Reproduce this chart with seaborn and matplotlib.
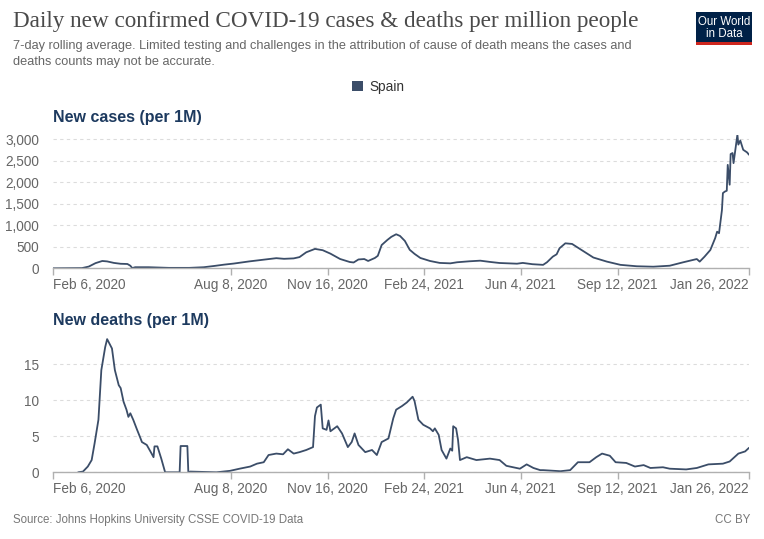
import matplotlib.pyplot as plt
import matplotlib.ticker as mticker
from matplotlib.patches import Patch, Rectangle
import pandas as pd
import seaborn as sns

# --- data (7-day rolling avg, Spain) ---
cases_dates = [
    "2020-02-06", "2020-03-07", "2020-03-14", "2020-03-21", "2020-03-28", "2020-04-02",
    "2020-04-09", "2020-04-16", "2020-04-23", "2020-04-26", "2020-04-28", "2020-05-01",
    "2020-05-15", "2020-06-05", "2020-06-26", "2020-07-11", "2020-07-22", "2020-08-01",
    "2020-08-11", "2020-08-27", "2020-09-09", "2020-09-24", "2020-10-02", "2020-10-12",
    "2020-10-18", "2020-10-25", "2020-11-03", "2020-11-11", "2020-11-19", "2020-11-29",
    "2020-12-09", "2020-12-13", "2020-12-18", "2020-12-24", "2020-12-28", "2021-01-04",
    "2021-01-07", "2021-01-11", "2021-01-17", "2021-01-21", "2021-01-26", "2021-01-30",
    "2021-02-04", "2021-02-09", "2021-02-14", "2021-02-20", "2021-03-02", "2021-03-12",
    "2021-03-23", "2021-03-30", "2021-04-12", "2021-04-23", "2021-05-03", "2021-05-13",
    "2021-05-31", "2021-06-06", "2021-06-16", "2021-06-27", "2021-07-01", "2021-07-07",
    "2021-07-11", "2021-07-14", "2021-07-20", "2021-07-27", "2021-08-04", "2021-08-18",
    "2021-09-01", "2021-09-15", "2021-10-02", "2021-10-19", "2021-11-05", "2021-11-19",
    "2021-12-03", "2021-12-06", "2021-12-11", "2021-12-17", "2021-12-22", "2021-12-24",
    "2021-12-26", "2021-12-29", "2021-12-30", "2022-01-01", "2022-01-03", "2022-01-04",
    "2022-01-06", "2022-01-07", "2022-01-09", "2022-01-10", "2022-01-14", "2022-01-15",
    "2022-01-17", "2022-01-20", "2022-01-24", "2022-01-26",
]
cases_values = [
    0, 5, 40, 120, 170, 160,
    125, 105, 100, 60, 5, 25,
    25, 10, 10, 25, 55, 85,
    110, 160, 195, 235, 220, 230,
    260, 372, 450, 420, 340, 216,
    146, 135, 205, 215, 170, 240,
    290, 540, 660, 730, 790, 750,
    635, 430, 335, 240, 170, 125,
    115, 140, 163, 177, 148, 123,
    107, 125, 95, 80, 140, 270,
    325, 465, 580, 565, 450, 250,
    155, 80, 47, 37, 60, 140,
    215, 155, 270, 425, 700, 850,
    815, 1350, 1745, 1780, 1800, 2400,
    1940, 2650, 2675, 2440, 3100, 2870,
    2965, 2750, 2690, 2635,
]

deaths_dates = [
    "2020-03-03", "2020-03-08", "2020-03-13", "2020-03-17", "2020-03-20", "2020-03-24",
    "2020-03-27", "2020-03-31", "2020-04-02", "2020-04-07", "2020-04-10", "2020-04-14",
    "2020-04-16", "2020-04-19", "2020-04-22", "2020-04-24", "2020-04-26", "2020-04-29",
    "2020-05-03", "2020-05-06", "2020-05-08", "2020-05-13", "2020-05-18", "2020-05-20",
    "2020-05-21", "2020-05-24", "2020-05-28", "2020-06-01", "2020-06-16", "2020-06-17",
    "2020-06-24", "2020-06-25", "2020-06-27", "2020-07-24", "2020-08-07", "2020-08-17",
    "2020-08-28", "2020-09-04", "2020-09-11", "2020-09-16", "2020-09-24", "2020-10-01",
    "2020-10-06", "2020-10-12", "2020-10-18", "2020-10-25", "2020-11-01", "2020-11-03",
    "2020-11-05", "2020-11-09", "2020-11-11", "2020-11-15", "2020-11-17", "2020-11-19",
    "2020-11-26", "2020-12-01", "2020-12-07", "2020-12-11", "2020-12-14", "2020-12-18",
    "2020-12-25", "2021-01-01", "2021-01-06", "2021-01-11", "2021-01-18", "2021-01-23",
    "2021-01-26", "2021-02-01", "2021-02-06", "2021-02-12", "2021-02-14", "2021-02-18",
    "2021-02-23", "2021-03-02", "2021-03-05", "2021-03-07", "2021-03-11", "2021-03-14",
    "2021-03-19", "2021-03-23", "2021-03-25", "2021-03-26", "2021-03-29", "2021-03-31",
    "2021-04-02", "2021-04-09", "2021-04-19", "2021-05-03", "2021-05-13", "2021-05-20",
    "2021-06-03", "2021-06-10", "2021-06-17", "2021-06-24", "2021-06-27", "2021-07-15",
    "2021-07-25", "2021-08-02", "2021-08-14", "2021-08-21", "2021-08-27", "2021-09-04",
    "2021-09-10", "2021-09-21", "2021-09-30", "2021-10-09", "2021-10-16", "2021-10-29",
    "2021-11-05", "2021-11-22", "2021-12-03", "2021-12-15", "2021-12-30", "2022-01-06",
    "2022-01-15", "2022-01-22", "2022-01-26",
]
deaths_values = [
    0, 0.1, 0.8, 1.7, 4.0, 7.3,
    14.2, 17.4, 18.5, 17.2, 14.2, 12.1,
    11.7, 9.8, 8.7, 7.7, 8.2, 7.3,
    5.9, 4.9, 4.2, 3.8, 2.6, 2.1,
    3.6, 3.6, 1.9, 0, 0, 3.65,
    3.65, 0, 0.1, 0, 0.2, 0.5,
    0.8, 1.2, 1.4, 2.4, 2.6, 2.5,
    3.2, 2.6, 2.8, 3.1, 3.5, 7.8,
    9.0, 9.4, 6.1, 5.9, 7.2, 5.7,
    6.4, 5.4, 3.5, 4.2, 5.4, 3.8,
    2.8, 3.1, 2.4, 4.2, 4.7, 7.5,
    8.7, 9.2, 9.7, 10.5, 9.9, 7.3,
    6.6, 6.1, 5.7, 6.1, 5.2, 3.1,
    1.9, 3.3, 3.0, 6.4, 6.1, 4.5,
    1.7, 2.1, 1.7, 1.9, 1.7, 0.9,
    0.5, 1.1, 0.6, 0.3, 0.3, 0.15,
    0.3, 1.4, 1.4, 2.1, 2.6, 2.3,
    1.4, 1.3, 0.8, 1.0, 0.6, 0.7,
    0.5, 0.4, 0.6, 1.1, 1.2, 1.5,
    2.6, 2.9, 3.4,
]

tick_dates = ["2020-02-06", "2020-08-08", "2020-11-16", "2021-02-24",
              "2021-06-04", "2021-09-12", "2022-01-26"]
tick_labels = ["Feb 6, 2020", "Aug 8, 2020", "Nov 16, 2020", "Feb 24, 2021",
               "Jun 4, 2021", "Sep 12, 2021", "Jan 26, 2022"]
country = "Spain"

LINE = "#3b4d68"
TXT = "#666666"
sns.set_theme(style="white")
plt.rcParams["font.family"] = ["Liberation Sans", "DejaVu Sans"]

cases = pd.DataFrame({"date": pd.to_datetime(cases_dates), "value": cases_values})
deaths = pd.DataFrame({"date": pd.to_datetime(deaths_dates), "value": deaths_values})

fig = plt.figure(figsize=(7.64, 5.39), dpi=100)
W, H = 764, 539


def box(x0, ytop, x1, ybot):
    return [x0 / W, 1 - ybot / H, (x1 - x0) / W, (ybot - ytop) / H]


ax1 = fig.add_axes(box(53, 134.7, 749, 268.3))
ax2 = fig.add_axes(box(53, 338.4, 749, 472.3))

panels = [(ax1, cases, 3100, [0, 500, 1000, 1500, 2000, 2500, 3000], "New cases (per 1M)"),
          (ax2, deaths, 18.6, [0, 5, 10, 15], "New deaths (per 1M)")]

for ax, df, ymax, yt, name in panels:
    sns.lineplot(data=df, x="date", y="value", ax=ax, color=LINE, linewidth=1.3)
    ax.set_xlim(pd.Timestamp("2020-02-06"), pd.Timestamp("2022-01-26"))
    ax.set_ylim(0, ymax)
    ax.set_yticks(yt)
    ax.yaxis.set_major_formatter(mticker.FuncFormatter(lambda v, p: f"{v:,.0f}"))
    ax.set_xticks(pd.to_datetime(tick_dates))
    ax.set_xticklabels(tick_labels)
    labs = ax.get_xticklabels()
    labs[0].set_ha("left")
    labs[-1].set_ha("right")
    ax.set_xlabel("")
    ax.set_ylabel("")
    for s in ["top", "right", "left"]:
        ax.spines[s].set_visible(False)
    ax.spines["bottom"].set_color("#b0b0b0")
    ax.spines["bottom"].set_linewidth(1.0)
    ax.tick_params(axis="x", bottom=True, length=5, width=1.0, color="#b0b0b0",
                   labelsize=9.8, labelcolor=TXT, pad=2)
    ax.tick_params(axis="y", left=False, labelsize=9.8, labelcolor=TXT, pad=4)
    ax.yaxis.grid(True, linestyle=(0, (3, 3)), color="#dcdcdc", linewidth=0.8)
    ax.xaxis.grid(False)
    ax.set_axisbelow(True)
    ax.patch.set_alpha(0)
    ax.text(0, 1.0, name, transform=ax.transAxes, fontsize=11.5, fontweight="bold",
            color="#1d3a5f", ha="left", va="bottom")

ax1.texts[0].set_position((0, 1 + 10 / 133.6))
ax2.texts[0].set_position((0, 1 + 10 / 133.9))

# header
fig.text(13 / W, 1 - 22 / H, "Daily new confirmed COVID-19 cases & deaths per million people",
         family=["Liberation Serif", "DejaVu Serif"], fontsize=16.7, color="#4a4a4a",
         ha="left", va="center")
fig.text(13 / W, 1 - 46 / H,
         "7-day rolling average. Limited testing and challenges in the attribution of cause of death means the cases and",
         fontsize=9.2, color=TXT, ha="left", va="center")
fig.text(13 / W, 1 - 62 / H, "deaths counts may not be accurate.",
         fontsize=9.2, color=TXT, ha="left", va="center")

# logo
fig.patches.append(Rectangle((696 / W, 1 - 45 / H), 56 / W, 33 / H, transform=fig.transFigure,
                             facecolor="#002147", edgecolor="none"))
fig.patches.append(Rectangle((696 / W, 1 - 45 / H), 56 / W, 3 / H, transform=fig.transFigure,
                             facecolor="#ce261e", edgecolor="none"))
fig.text(724 / W, 1 - 28 / H, "Our World\nin Data", fontsize=8.3, color="white",
         ha="center", va="center", linespacing=1.0)

# legend
fig.legend(handles=[Patch(facecolor=LINE, edgecolor="none")], labels=[country],
           loc="center", bbox_to_anchor=(378 / W, 1 - 87 / H), frameon=False,
           fontsize=9.8, handlelength=0.8, handleheight=0.8, handletextpad=0.5,
           labelcolor="#333333")

# footer
fig.text(13 / W, 1 - 520 / H, "Source: Johns Hopkins University CSSE COVID-19 Data",
         fontsize=8.3, color="#777777", ha="left", va="center")
fig.text(750 / W, 1 - 520 / H, "CC BY", fontsize=8.3, color="#777777", ha="right", va="center")

fig.savefig("out.png", dpi=100, facecolor="white")
